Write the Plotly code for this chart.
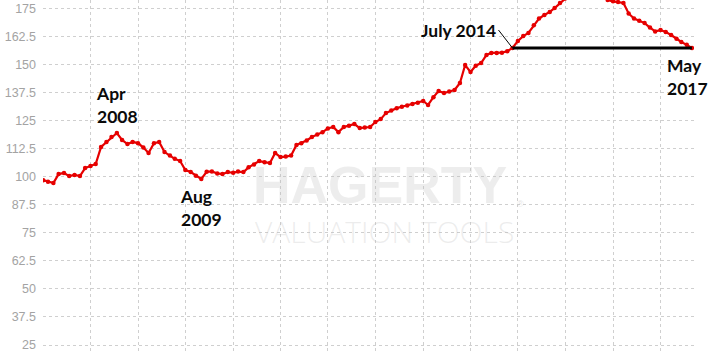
import plotly.graph_objects as go
import pandas as pd

# Monthly index values, Feb 2007 - May 2017
months = pd.date_range("2007-02-01", "2017-05-01", freq="MS").strftime("%Y-%m-%d").tolist()
index_values = [
    98.5, 97.8, 97.2, 101.2, 101.7, 100.3, 100.8, 100.3, 103.9, 104.8,
    105.7, 113.3, 115.5, 117.7, 119.5, 116.4, 114.6, 115.5, 115.0, 113.0,
    110.6, 115.0, 115.5, 111.0, 109.5, 108.0, 107.0, 103.0, 102.1, 100.5,
    99.0, 102.2, 102.4, 101.5, 101.2, 102.1, 101.8, 102.3, 102.1, 104.2,
    105.5, 107.0, 106.5, 106.1, 110.6, 108.8, 109.0, 109.5, 114.2, 115.0,
    116.2, 117.7, 118.8, 119.9, 121.5, 122.2, 119.9, 122.2, 122.8, 123.5,
    121.7, 122.0, 122.2, 124.4, 125.7, 128.4, 129.5, 130.6, 131.2, 131.8,
    132.4, 133.0, 133.8, 132.0, 135.5, 138.2, 137.3, 138.0, 138.7, 141.8,
    149.8, 146.7, 149.5, 150.7, 154.3, 155.2, 155.2, 155.3, 156.0, 157.4,
    160.5, 162.7, 164.1, 167.6, 170.5, 172.1, 173.5, 175.2, 177.5, 179.5,
    181.5, 183.0, 184.2, 185.0, 184.5, 182.5, 180.5, 178.8, 178.2, 177.9,
    177.5, 172.8, 170.5, 169.5, 168.5, 166.5, 164.8, 165.4, 164.5, 163.2,
    161.5, 160.1, 158.8, 157.4,
]
y_ticks = [25, 37.5, 50, 62.5, 75, 87.5, 100, 112.5, 125, 137.5, 150, 162.5, 175]
y_tick_labels = ["25", "37.5", "50", "62.5", "75", "87.5", "100", "112.5", "125",
                 "137.5", "150", "162.5", "175"]

# Annotated points (indices into the monthly arrays)
i_apr2008, i_aug2009, i_jul2014, i_may2017 = 14, 30, 89, 123

fig = go.Figure()
fig.add_trace(go.Scatter(
    x=months, y=index_values, mode="lines+markers",
    line=dict(color="#e60000", width=2.2),
    marker=dict(color="#e60000", size=4.5),
    hoverinfo="skip", showlegend=False,
))
fig.add_trace(go.Scatter(
    x=[months[i_jul2014], months[i_may2017]],
    y=[index_values[i_jul2014], index_values[i_jul2014]],
    mode="lines", line=dict(color="black", width=3),
    hoverinfo="skip", showlegend=False,
))

afont = dict(family="Lato, 'Open Sans', sans-serif", size=17.5, color="#0a0a0a", weight="bold")
annotations = [
    dict(x=months[i_apr2008], y=index_values[i_apr2008], text="Apr<br>2008",
         showarrow=False, xanchor="center", yanchor="bottom", yshift=4, align="left", font=afont),
    dict(x=months[i_aug2009], y=index_values[i_aug2009], text="Aug<br>2009",
         showarrow=False, xanchor="center", yanchor="top", yshift=-5, align="left", font=afont),
    dict(x=months[i_jul2014], y=index_values[i_jul2014], text="July 2014",
         showarrow=True, arrowhead=0, arrowwidth=1, arrowcolor="black", standoff=0,
         ax=-14, ay=-18, xanchor="right", yanchor="middle", font=afont),
    dict(x=months[i_may2017], y=index_values[i_may2017], text="May<br>2017",
         showarrow=False, xanchor="center", yanchor="top", yshift=-5, xshift=-4,
         align="left", font=afont),
    # watermark
    dict(x=0.517, y=0.478, xref="paper", yref="paper", text="HAGERTY",
         showarrow=False, xanchor="center", yanchor="middle",
         font=dict(family="'Liberation Sans', Arial, sans-serif", size=52,
                   color="rgba(190,190,190,0.28)", weight="bold")),
    dict(x=0.733, y=0.425, xref="paper", yref="paper", text="®",
         showarrow=False, xanchor="center", yanchor="middle",
         font=dict(family="'Liberation Sans', sans-serif", size=9,
                   color="rgba(190,190,190,0.4)")),
    dict(x=0.525, y=0.347, xref="paper", yref="paper", text="VALUATION TOOLS",
         showarrow=False, xanchor="center", yanchor="middle",
         font=dict(family="'Open Sans', sans-serif", size=30,
                   color="rgba(190,190,190,0.28)", weight=300)),
]

fig.update_layout(
    width=708, height=354,
    margin=dict(l=43, r=14, t=0, b=0),
    paper_bgcolor="white", plot_bgcolor="white",
    annotations=annotations,
    xaxis=dict(
        type="date", range=["2007-01-31", "2017-05-13"],
        tick0="2007-02-01", dtick="M9",
        showticklabels=False, ticks="",
        showgrid=True, gridcolor="#cfcfcf", griddash="dot", gridwidth=1,
        zeroline=False, showline=False,
    ),
    yaxis=dict(
        range=[21, 178.8],
        tickvals=y_ticks, ticktext=y_tick_labels,
        tickfont=dict(family="'Liberation Sans', Arial, sans-serif", size=12.5, color="#a3a3a3"),
        ticks="", ticklabelstandoff=6,
        showgrid=True, gridcolor="#cfcfcf", griddash="dot", gridwidth=1,
        zeroline=False, showline=False,
    ),
)

fig.write_html("out.html")
